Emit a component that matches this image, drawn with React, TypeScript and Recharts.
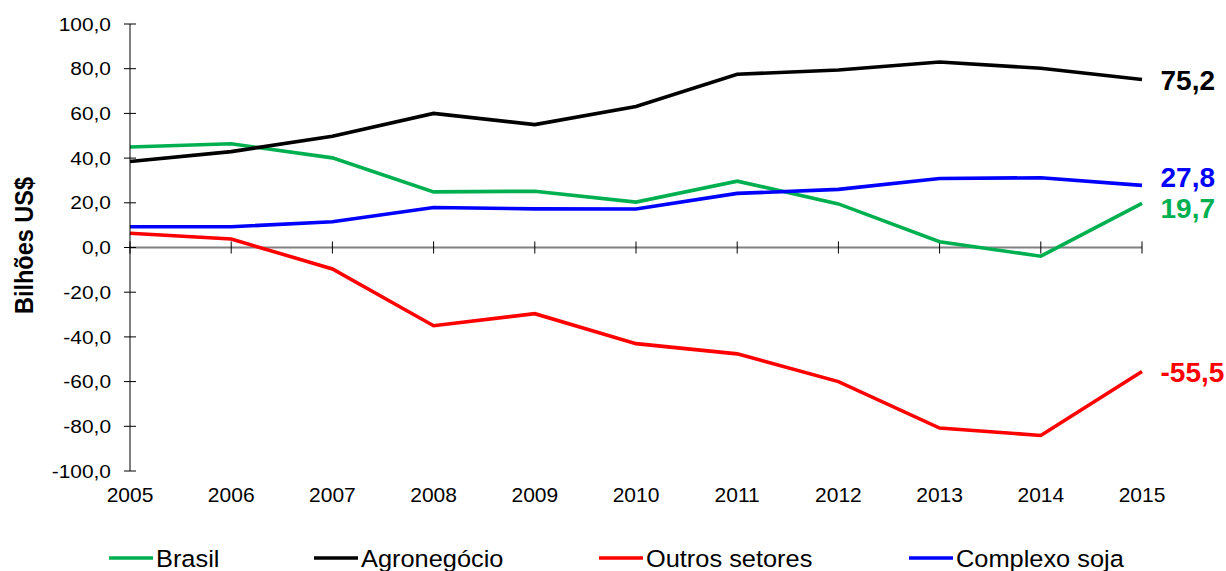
import React from 'react';
import { LineChart, Line, XAxis, YAxis, ReferenceLine, LabelList, Legend } from 'recharts';

const years = ['2005', '2006', '2007', '2008', '2009', '2010', '2011', '2012', '2013', '2014', '2015'];
const brasil = [45.0, 46.4, 40.1, 24.9, 25.2, 20.3, 29.7, 19.5, 2.6, -3.9, 19.7];
const agronegocio = [38.5, 42.9, 49.8, 60.0, 55.0, 63.1, 77.5, 79.4, 83.0, 80.2, 75.2];
const outrosSetores = [6.4, 3.8, -9.6, -35.0, -29.6, -43.0, -47.6, -60.0, -80.8, -84.1, -55.5];
const complexoSoja = [9.3, 9.3, 11.5, 17.9, 17.3, 17.2, 24.2, 26.0, 30.9, 31.2, 27.8];
const yTicks = [-100, -80, -60, -40, -20, 0, 20, 40, 60, 80, 100];

const seriesNames = ['Brasil', 'Agronegócio', 'Outros setores', 'Complexo soja'];

const data = years.map((year, i) => ({
  year,
  brasil: brasil[i],
  agro: agronegocio[i],
  outros: outrosSetores[i],
  soja: complexoSoja[i],
}));

const FONT = '"Liberation Sans", Arial, Helvetica, sans-serif';
const LAST = years.length - 1;
const LINE_W = 3.6;

const fmt = (v: number) => v.toFixed(1).replace('.', ',');

const YTick = (props: any) => {
  const { x, y, payload } = props;
  const axisX = x + 19;
  return (
    <g>
      <line x1={axisX - 6} x2={axisX + 6} y1={y} y2={y} stroke="#000" strokeWidth={1} />
      <text
        transform={`translate(${x},${y}) scale(1.1,1)`}
        x={0}
        y={0}
        dy="0.35em"
        textAnchor="end"
        fontFamily={FONT}
        fontSize={19}
        fill="#000"
      >
        {fmt(payload.value)}
      </text>
    </g>
  );
};

const XTick = (props: any) => {
  const { x, y, payload } = props;
  return (
    <text
      transform={`translate(${x},${y}) scale(1.05,1)`}
      x={0}
      y={0}
      dy="0.71em"
      textAnchor="middle"
      fontFamily={FONT}
      fontSize={20}
      fill="#000"
    >
      {payload.value}
    </text>
  );
};

const endLabel = (color: string, dy: number) => (props: any) => {
  const { x, y, index, value } = props;
  if (index !== LAST) return null;
  return (
    <text
      x={x + 18.5}
      y={y + dy}
      dy="0.36em"
      fontFamily={FONT}
      fontWeight="bold"
      fontSize={28}
      fill={color}
    >
      {fmt(value)}
    </text>
  );
};

const LEGEND_X = [109, 314, 599, 909];

const renderLegend = (props: any) => {
  const payload = props.payload || [];
  const ordered = seriesNames
    .map((name) => payload.find((p: any) => p.value === name))
    .filter(Boolean);
  return (
    <svg width={1226} height={31} style={{ display: 'block' }}>
      {ordered.map((entry: any, i: number) => (
        <g key={entry.value}>
          <line
            x1={LEGEND_X[i]}
            x2={LEGEND_X[i] + 44}
            y1={18}
            y2={18}
            stroke={entry.color}
            strokeWidth={3.5}
          />
          <text
            transform={`translate(${LEGEND_X[i] + 47},26.7) scale(1.08,1)`}
            x={0}
            y={0}
            fontFamily={FONT}
            fontSize={23.5}
            fill="#000"
          >
            {entry.value}
          </text>
        </g>
      ))}
    </svg>
  );
};

const YLabel = () => (
  <text
    transform="translate(32.5,245.5) scale(1.13,1) rotate(-90)"
    x={0}
    y={0}
    textAnchor="middle"
    fontFamily={FONT}
    fontWeight="bold"
    fontSize={23.5}
    fill="#000"
  >
    Bilhões US$
  </text>
);

export default function App() {
  return (
    <div style={{ width: 1226, height: 571, background: '#fff', position: 'relative' }}>
      <style>{'body{margin:0;background:#fff;}'}</style>
      <LineChart
        width={1226}
        height={571}
        data={data}
        margin={{ top: 24, right: 84, bottom: 0, left: 0 }}
      >
        <XAxis
          dataKey="year"
          height={100}
          axisLine={false}
          tickLine={false}
          tickSize={0}
          tickMargin={17}
          interval={0}
          padding={{ left: 0, right: 0 }}
          tick={<XTick />}
        />
        <YAxis
          width={130}
          domain={[-100, 100]}
          ticks={yTicks}
          interval={0}
          axisLine={{ stroke: '#000', strokeWidth: 1 }}
          tickLine={false}
          tickSize={0}
          tickMargin={19}
          tick={<YTick />}
          label={{ content: () => <YLabel /> }}
        />
        <ReferenceLine y={0} stroke="#808080" strokeWidth={2} ifOverflow="visible" />
        {years.map((yr) => (
          <ReferenceLine
            key={yr}
            segment={[
              { x: yr, y: -2.7 },
              { x: yr, y: 2.7 },
            ]}
            stroke="#000"
            strokeWidth={1}
            ifOverflow="visible"
          />
        ))}
        <Line
          name={seriesNames[0]}
          dataKey="brasil"
          stroke="#00B050"
          strokeWidth={LINE_W}
          dot={false}
          type="linear"
          isAnimationActive={false}
        >
          <LabelList dataKey="brasil" content={endLabel('#00B050', 4)} />
        </Line>
        <Line
          name={seriesNames[1]}
          dataKey="agro"
          stroke="#000000"
          strokeWidth={LINE_W}
          dot={false}
          type="linear"
          isAnimationActive={false}
        >
          <LabelList dataKey="agro" content={endLabel('#000000', 0)} />
        </Line>
        <Line
          name={seriesNames[2]}
          dataKey="outros"
          stroke="#FF0000"
          strokeWidth={LINE_W}
          dot={false}
          type="linear"
          isAnimationActive={false}
        >
          <LabelList dataKey="outros" content={endLabel('#FF0000', 0)} />
        </Line>
        <Line
          name={seriesNames[3]}
          dataKey="soja"
          stroke="#0000FF"
          strokeWidth={LINE_W}
          dot={false}
          type="linear"
          isAnimationActive={false}
        >
          <LabelList dataKey="soja" content={endLabel('#0000FF', -8)} />
        </Line>
        <Legend
          layout="horizontal"
          verticalAlign="middle"
          align="center"
          itemSorter={null as any}
          content={renderLegend}
          wrapperStyle={{ position: 'absolute', left: 0, top: 540, width: 1226, height: 31 }}
        />
      </LineChart>
    </div>
  );
}
